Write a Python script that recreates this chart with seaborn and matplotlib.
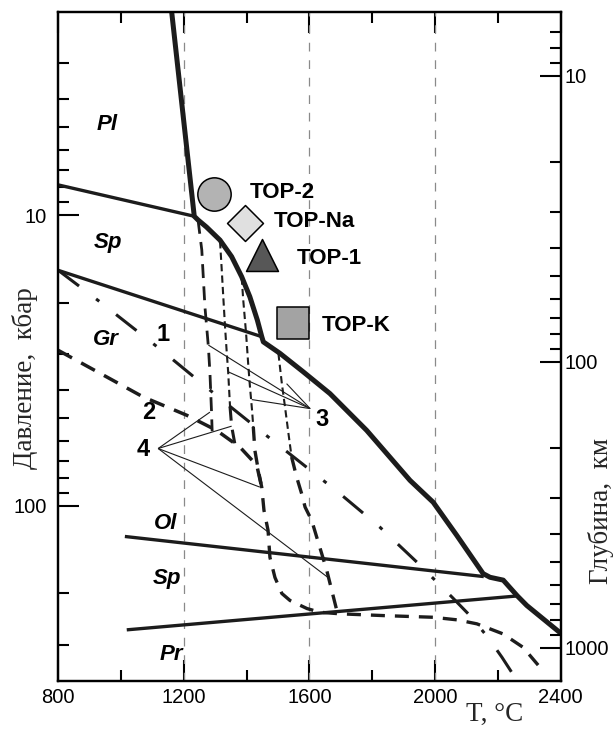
import matplotlib
matplotlib.use("Agg")
import matplotlib.pyplot as plt
import seaborn as sns
from matplotlib.ticker import FixedLocator, FixedFormatter, NullFormatter

sns.set_style("ticks")
plt.rcParams["font.family"] = ["Liberation Sans", "DejaVu Sans"]

INK = "#1c1c1c"

# ---------------- data (T in °C, P in kbar) ----------------
solidus_T = [1161, 1233, 1245, 1272, 1315, 1352, 1384, 1410, 1434, 1448, 1453, 1506, 1580,
             1665, 1782, 1920, 1994, 2069, 2153, 2175, 2217, 2262, 2292, 2400]
solidus_P = [2.0, 10.1, 10.4, 11.0, 12.2, 13.9, 16.3, 19.1, 23.0, 26.2, 27.3, 29.9, 34.6,
             41.1, 55.0, 81.7, 97.2, 126.3, 171, 176, 180, 204, 220, 274]

pl_sp_T = [800, 1233]
pl_sp_P = [7.88, 10.1]
sp_gr_T = [800, 1448]
sp_gr_P = [15.5, 26.2]
ol_sp_T = [1012, 2155]
ol_sp_P = [127.4, 175]
sp_pr_T = [1018, 2262]
sp_pr_P = [266.8, 204]

curve1_T = [800, 933, 1124, 1315, 1442, 1570, 1697, 1824, 1942, 2054, 2111, 2168, 2213, 2261]
curve1_P = [15.5, 19.9, 28.9, 42.7, 55.0, 70.7, 90.8, 118.3, 156.1, 206.0, 238.3, 282.9, 331.6, 398.7]

curve2_T = [800, 1070, 1209, 1304, 1379, 1432, 1448]
curve2_P = [29.2, 42.2, 48.8, 55.0, 62.9, 72.5, 86.4]

v1_T = [1245, 1257, 1267, 1278, 1283, 1288, 1290]
v1_P = [10.4, 13.2, 20.7, 28.4, 35.0, 47.6, 55.4]

v2u_T = [1315, 1320, 1326, 1331, 1336, 1341, 1347]
v2u_P = [12.3, 15.1, 19.6, 24.2, 29.2, 34.7, 45.7]
v2l_T = [1347, 1352, 1366]
v2l_P = [45.7, 53.2, 64.4]

v3u_T = [1384, 1389, 1398, 1405, 1410, 1417, 1421]
v3u_P = [16.4, 19.6, 25.5, 32.8, 38.5, 46.9, 53.5]
v3l_T = [1421, 1426, 1437, 1448, 1455, 1468, 1474, 1490, 1512, 1538, 1592, 1633, 1697,
         1834, 1993, 2070, 2133, 2216, 2280, 2334, 2347]
v3l_P = [53.5, 64.4, 75.5, 86.4, 103.6, 121.4, 150.4, 176.3, 200.1, 211.5, 225.4, 232.1,
         235.0, 238.3, 241.5, 246.5, 254.4, 275.4, 306.3, 358.8, 374.2]

v4u_T = [1501, 1512, 1522, 1533, 1543]
v4u_P = [29.9, 38.0, 45.7, 56.4, 67.9]
v4l_T = [1543, 1559, 1575, 1586, 1607, 1623, 1639, 1655, 1671, 1687, 1691]
v4l_P = [67.9, 79.6, 90.8, 101, 112.2, 128.1, 146.1, 166.7, 195.4, 229, 238.3]

ptr3_origin = (1602, 46.3)
ptr3_T = [1278, 1341, 1416, 1527]
ptr3_P = [28.0, 34.6, 43.1, 38.0]
ptr4_origin = (1118, 63.5)
ptr4_T = [1283, 1352, 1442, 1659]
ptr4_P = [47.6, 53.2, 86.2, 176.3]

samples = ["TOP-2", "TOP-Na", "TOP-1", "TOP-K"]
sample_T = [1296, 1395, 1450, 1546]
sample_P = [8.47, 10.68, 13.73, 23.6]
sample_marker = ["o", "D", "^", "s"]
sample_size = [24, 18.3, 23, 22.5]
sample_fill = ["#b3b3b3", "#e0e0e0", "#575757", "#a3a3a3"]
label_T = [1410, 1485, 1559, 1639]
label_P = [8.40, 10.55, 14.06, 24.0]

phase_labels = ["Pl", "Sp", "Gr", "Ol", "Sp", "Pr"]
phase_T = [957, 958, 952, 1141, 1145, 1160]
phase_P = [4.9, 12.4, 26.8, 115.3, 177.7, 324.5]

num_labels = ["1", "2", "3", "4"]
num_T = [1133, 1087, 1639, 1070]
num_P = [25.7, 47.8, 50.4, 63.9]

grid_T = [1200, 1600, 2000]

# ---------------- figure ----------------
fig = plt.figure(figsize=(6.15, 7.29), dpi=100)
ax = fig.add_axes([58.3 / 615, 1 - 681 / 729, (560.7 - 58.3) / 615, (681 - 11.7) / 729])
ax.set_yscale("log")
ax.set_xlim(800, 2400)
ax.set_ylim(400, 2.0)


def line(T, P, lw, dashes=None, z=3, color=INK):
    sns.lineplot(x=T, y=P, sort=False, estimator=None, color=color, linewidth=lw,
                 ax=ax, legend=False, zorder=z)
    ln = ax.lines[-1]
    if dashes is not None:
        ln.set_dashes(dashes)
    ln.set_dash_capstyle("butt")
    ln.set_solid_capstyle("butt")
    return ln


for t in grid_T:
    ax.axvline(t, color="#8a8a8a", lw=0.9, dashes=(7, 7), zorder=1)

line(pl_sp_T, pl_sp_P, 2.4)
line(sp_gr_T, sp_gr_P, 2.4)
line(ol_sp_T, ol_sp_P, 2.4)
line(sp_pr_T, sp_pr_P, 2.4)
line(curve1_T, curve1_P, 2.2, dashes=(8.5, 7, 1.3, 7))
line(curve2_T, curve2_P, 2.5, dashes=(4.5, 3))
line(v1_T, v1_P, 2.0, dashes=(5, 3))
line(v2u_T, v2u_P, 1.5, dashes=(3.5, 2))
line(v2l_T, v2l_P, 2.2, dashes=(4.5, 3))
line(v3u_T, v3u_P, 1.5, dashes=(3.5, 2))
line(v3l_T, v3l_P, 2.4, dashes=(4.2, 3))
line(v4u_T, v4u_P, 1.5, dashes=(3.5, 2))
line(v4l_T, v4l_P, 2.4, dashes=(4.2, 3))
line(solidus_T, solidus_P, 3.6, z=4)

for tt, pp in zip(ptr3_T, ptr3_P):
    line([ptr3_origin[0], tt], [ptr3_origin[1], pp], 0.8, z=2)
for tt, pp in zip(ptr4_T, ptr4_P):
    line([ptr4_origin[0], tt], [ptr4_origin[1], pp], 0.8, z=2)

for i in range(len(samples)):
    sns.scatterplot(x=[sample_T[i]], y=[sample_P[i]], marker=sample_marker[i],
                    s=sample_size[i] ** 2, color=sample_fill[i], edgecolor="black",
                    linewidth=1.1, ax=ax, legend=False, zorder=6)
    ax.text(label_T[i], label_P[i], samples[i], fontsize=16, fontweight="bold",
            ha="left", va="center", color="black", zorder=7)

for s, tt, pp in zip(phase_labels, phase_T, phase_P):
    ax.text(tt, pp, s, fontsize=16, fontweight="bold", fontstyle="italic",
            ha="center", va="center", color="black", zorder=7)
for s, tt, pp in zip(num_labels, num_T, num_P):
    ax.text(tt, pp, s, fontsize=17, fontweight="bold", ha="center", va="center",
            color="black", zorder=7)

# axes / ticks
ax.set_xticks([800, 1200, 1600, 2000, 2400])
ax.set_xticklabels(["800", "1200", "1600", "2000", "2400"])
ax.set_xticks([1000, 1400, 1800, 2200], minor=True)
ax.yaxis.set_major_locator(FixedLocator([10, 100]))
ax.yaxis.set_major_formatter(FixedFormatter(["10", "100"]))
ax.yaxis.set_minor_locator(FixedLocator([3, 4, 5, 6, 7, 8, 9, 20, 30, 40, 50, 60, 70, 80, 90, 200, 300]))
ax.yaxis.set_minor_formatter(NullFormatter())
ax.tick_params(which="both", direction="in", width=1.5, color="black", labelcolor="black")
ax.tick_params(which="major", length=15)
ax.tick_params(which="minor", length=8)
ax.tick_params(axis="x", which="both", top=True, bottom=True, labelsize=14.5, pad=5)
ax.tick_params(axis="y", which="both", left=True, right=False, labelsize=14.5, pad=8)
ax.set_xlabel("")
ax.set_ylabel("")
for sp in ax.spines.values():
    sp.set_linewidth(1.6)
    sp.set_color("black")

ax2 = ax.twinx()
ax2.set_yscale("log")
ax2.set_ylim(1304.6, 5.96)
ax2.yaxis.set_major_locator(FixedLocator([10, 100, 1000]))
ax2.yaxis.set_major_formatter(FixedFormatter(["10", "100", "1000"]))
ax2.yaxis.set_minor_locator(FixedLocator([7, 8, 9, 20, 30, 40, 50, 60, 70, 80, 90,
                                          200, 300, 400, 500, 600, 700, 800, 900]))
ax2.yaxis.set_minor_formatter(NullFormatter())
ax2.tick_params(which="both", direction="in", width=1.5, right=True, left=False,
                labelsize=14.5, pad=3, color="black", labelcolor="black")
ax2.tick_params(which="major", length=15)
ax2.tick_params(which="minor", length=8)
for sp in ax2.spines.values():
    sp.set_linewidth(1.6)
    sp.set_color("black")

serif = ["Liberation Serif", "DejaVu Serif"]
fig.text(25 / 615, 1 - 378 / 729, "Давление,  кбар", rotation=90, ha="center", va="center",
         fontsize=19.5, family=serif)
fig.text(601 / 615, 1 - 511 / 729, "Глубина,  км", rotation=90, ha="center", va="center",
         fontsize=19.5, family=serif)
fig.text(495 / 615, 2 / 729, "T, °C", ha="center", va="bottom", fontsize=19.5, family=serif)

fig.savefig("out.png", dpi=100)
